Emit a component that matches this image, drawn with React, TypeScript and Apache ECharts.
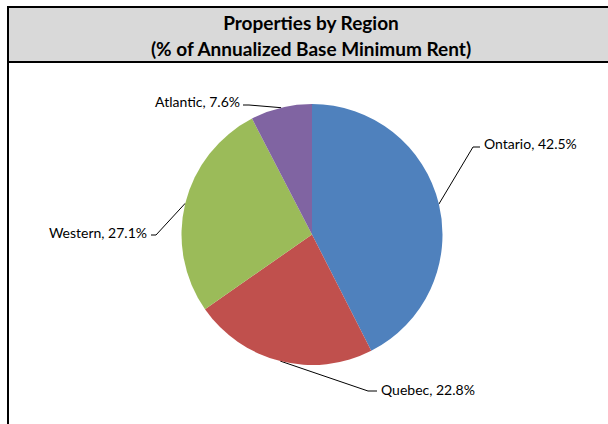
import React, { useEffect, useRef } from "react";
import * as echarts from "echarts";

const categories = ["Ontario", "Quebec", "Western", "Atlantic"];
const shares = [42.5, 22.8, 27.1, 7.6];
const colors = ["#4F81BD", "#C0504D", "#9BBB59", "#8064A2"];
const titleLines = ["Properties by Region", "(% of Annualized Base Minimum Rent)"];

// label placement (layout only)
const labelPlacement = [
  { x: 484, y: 143, align: "left", elbow: [473, 147], end: [480, 147] },
  { x: 381, y: 389, align: "left", elbow: [368, 391], end: [377, 391] },
  { x: 147, y: 232, align: "right", elbow: [156, 235], end: [151, 235] },
  { x: 240, y: 101, align: "right", elbow: [249, 105], end: [243, 105] },
];

export default function App() {
  const ref = useRef<HTMLDivElement>(null);
  useEffect(() => {
    if (!ref.current) return;
    const chart = echarts.init(ref.current, null, { renderer: "svg" });
    const font = "Lato, 'Open Sans', sans-serif";
    chart.setOption({
      animation: false,
      backgroundColor: "#ffffff",
      graphic: [
        {
          type: "rect",
          shape: { x: 8, y: 7, width: 620, height: 440 },
          style: { fill: "#ffffff", stroke: "#000000", lineWidth: 2 },
          z: -10,
        },
        {
          type: "rect",
          shape: { x: 8, y: 7, width: 620, height: 55 },
          style: { fill: "#D9D9D9", stroke: "#000000", lineWidth: 2 },
          z: -9,
        },
        {
          type: "text",
          x: 311,
          y: 22,
          style: {
            text: titleLines[0],
            fontFamily: font,
            fontWeight: "bold",
            fontSize: 19,
            fill: "#000",
            textAlign: "center",
            textVerticalAlign: "middle",
          },
          z: 10,
        },
        {
          type: "text",
          x: 311,
          y: 48,
          style: {
            text: titleLines[1],
            fontFamily: font,
            fontWeight: "bold",
            fontSize: 19,
            fill: "#000",
            textAlign: "center",
            textVerticalAlign: "middle",
          },
          z: 10,
        },
      ],
      series: [
        {
          type: "pie",
          center: [312, 234.5],
          radius: 130.5,
          startAngle: 90,
          clockwise: true,
          data: categories.map((c, i) => ({
            name: c,
            value: shares[i],
            itemStyle: { color: colors[i] },
          })),
          label: {
            show: true,
            formatter: (p: any) => `${p.name}, ${shares[p.dataIndex].toFixed(1)}%`,
            fontFamily: font,
            fontSize: 14,
            color: "#000",
          },
          labelLine: {
            show: true,
            length: 20,
            length2: 10,
            lineStyle: { color: "#000", width: 1 },
          },
          labelLayout: (params: any) => {
            const p = labelPlacement[params.dataIndex];
            const edge = params.labelLinePoints ? params.labelLinePoints[0] : p.elbow;
            return {
              x: p.x,
              y: p.y,
              align: p.align,
              verticalAlign: "middle",
              labelLinePoints: [edge, p.elbow, p.end],
            };
          },
          emphasis: { disabled: true },
        },
      ],
    });
    return () => chart.dispose();
  }, []);
  return (
    <div
      ref={ref}
      style={{ position: "fixed", left: 0, top: 0, width: 608, height: 424 }}
    />
  );
}
